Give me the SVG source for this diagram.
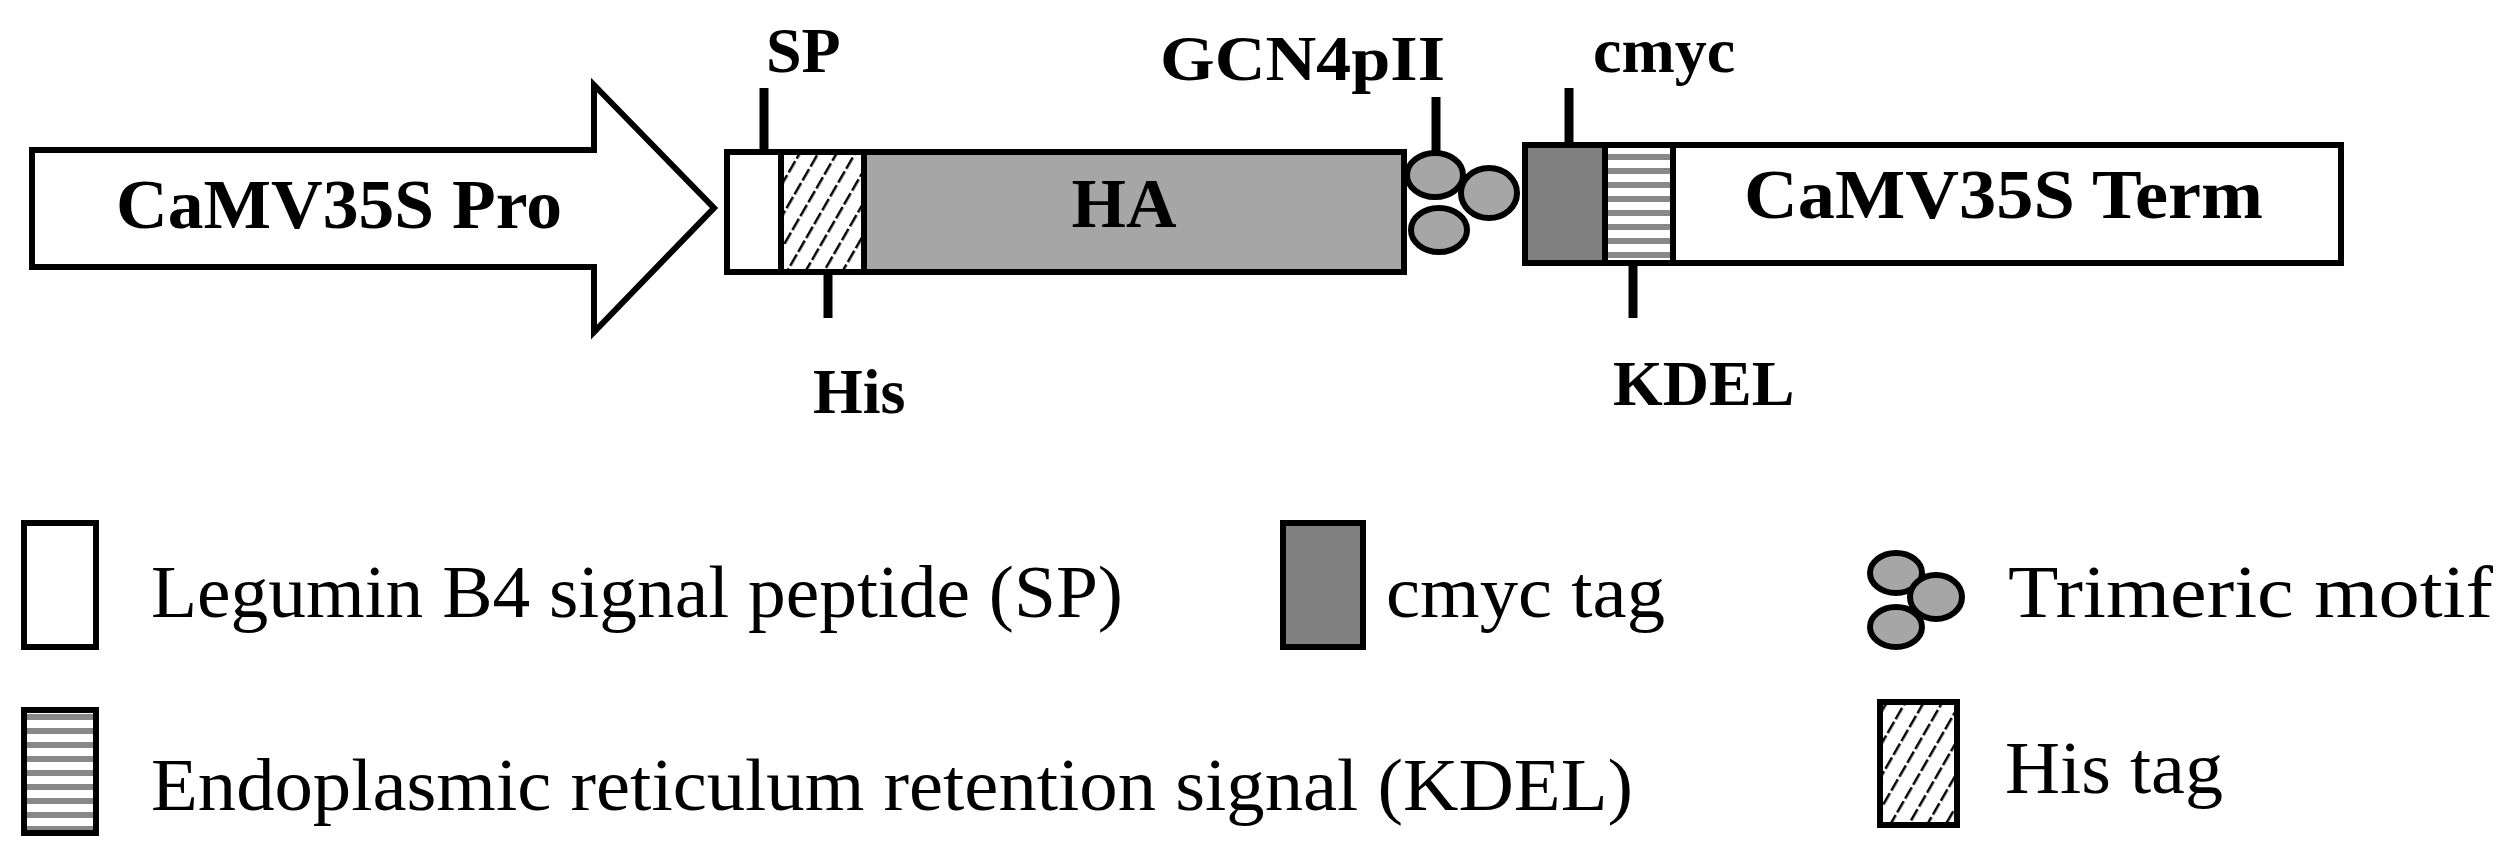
<svg xmlns="http://www.w3.org/2000/svg" width="2499" height="852" viewBox="0 0 2499 852">
<style>
.b{font-family:"Liberation Serif",serif;font-weight:bold;fill:#000}
.n{font-family:"Liberation Serif",serif;fill:#000;font-size:74px}
.o{stroke:#000;stroke-width:6}
.t{stroke:#000;stroke-width:9}
</style>
<defs>
<pattern id="hatch" width="16" height="16" patternUnits="userSpaceOnUse" patternTransform="rotate(30)">
<rect width="16" height="16" fill="#fff"/><line x1="0" y1="0" x2="0" y2="16" stroke="#000" stroke-width="5" stroke-dasharray="11 3"/>
</pattern>
<pattern id="stripe" width="10" height="14" patternUnits="userSpaceOnUse">
<rect width="10" height="14" fill="#fff"/><rect y="0" width="10" height="6" fill="#888"/>
</pattern>
</defs>
<rect width="2499" height="852" fill="#fff"/>
<g id="promoter">
<polygon points="32,150 594,150 594,85 714,208 594,332 594,267 32,267" fill="#fff" class="o"/>
<text class="b" x="116" y="228" font-size="70" textLength="446" lengthAdjust="spacingAndGlyphs">CaMV35S Pro</text>
</g>
<g id="sp"><rect x="727" y="152" width="54" height="120" fill="#fff" class="o"/>
<line x1="764" y1="88" x2="764" y2="152" class="t"/><text class="b" x="766" y="72" font-size="64">SP</text></g>
<g id="his"><rect x="781" y="152" width="83" height="120" fill="url(#hatch)" class="o"/>
<line x1="828" y1="272" x2="828" y2="318" class="t"/><text class="b" x="813" y="413" font-size="64">His</text></g>
<g id="ha"><rect x="864" y="152" width="540" height="120" fill="#a6a6a6" class="o"/>
<text class="b" x="1124" y="227" font-size="70" text-anchor="middle">HA</text></g>
<g id="gcn4">
<line x1="1436" y1="97" x2="1436" y2="152" class="t"/>
<ellipse cx="1435" cy="175" rx="28" ry="22" fill="#a6a6a6" class="o"/>
<ellipse cx="1489" cy="193" rx="28" ry="25" fill="#a6a6a6" class="o"/>
<ellipse cx="1439" cy="230" rx="28" ry="22" fill="#a6a6a6" class="o"/>
<text class="b" x="1160" y="80" font-size="64" textLength="285" lengthAdjust="spacingAndGlyphs">GCN4pII</text></g>
<g id="cmyc"><rect x="1525" y="145" width="80" height="118" fill="#808080" class="o"/>
<line x1="1569" y1="88" x2="1569" y2="145" class="t"/><text class="b" x="1593" y="72" font-size="64">cmyc</text></g>
<g id="kdel"><rect x="1605" y="145" width="68" height="118" fill="url(#stripe)" class="o"/>
<line x1="1633" y1="263" x2="1633" y2="318" class="t"/><text class="b" x="1613" y="405" font-size="64">KDEL</text></g>
<g id="term"><rect x="1673" y="145" width="668" height="118" fill="#fff" class="o"/>
<text class="b" x="1744" y="218" font-size="70" textLength="519" lengthAdjust="spacingAndGlyphs">CaMV35S Term</text></g>
<g id="connectors"></g>
<g id="legend">
<rect x="24" y="523" width="72" height="124" fill="#fff" class="o"/>
<text class="n" x="151" y="617" textLength="972" lengthAdjust="spacingAndGlyphs">Legumin B4  signal peptide (SP)</text>
<rect x="1283" y="523" width="80" height="124" fill="#808080" class="o"/>
<text class="n" x="1386" y="617" textLength="279" lengthAdjust="spacingAndGlyphs">cmyc tag</text>
<ellipse cx="1896" cy="573" rx="26" ry="20" fill="#a6a6a6" class="o"/>
<ellipse cx="1936" cy="597" rx="26" ry="22" fill="#a6a6a6" class="o"/>
<ellipse cx="1896" cy="627" rx="26" ry="20" fill="#a6a6a6" class="o"/>
<text class="n" x="2008" y="617" textLength="485" lengthAdjust="spacingAndGlyphs">Trimeric motif</text>
<rect x="24" y="710" width="72" height="123" fill="url(#stripe)" class="o"/>
<text class="n" x="151" y="810" textLength="1482" lengthAdjust="spacingAndGlyphs">Endoplasmic reticulum retention signal (KDEL)</text>
<rect x="1880" y="702" width="77" height="123" fill="url(#hatch)" class="o"/>
<text class="n" x="2005" y="793" textLength="218" lengthAdjust="spacingAndGlyphs">His tag</text>
</g>
</svg>
